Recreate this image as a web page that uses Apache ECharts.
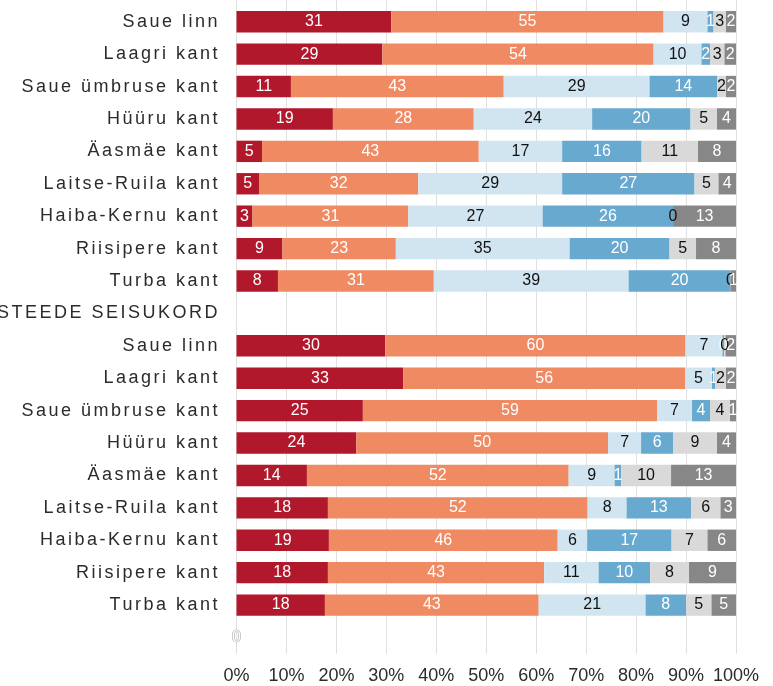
<!DOCTYPE html>
<html>
<head>
<meta charset="utf-8">
<script src="https://cdn.jsdelivr.net/npm/echarts@6/dist/echarts.min.js"></script>
<style>
html,body{margin:0;padding:0;background:#fff;}
#chart{width:773px;height:686px;}
</style>
</head>
<body>
<div id="chart"></div>
<script>
// ---- data ----
var categories = ['',
  'Saue linn','Laagri kant','Saue ümbruse kant','Hüüru kant','Äasmäe kant','Laitse-Ruila kant','Haiba-Kernu kant','Riisipere kant','Turba kant',
  'STEEDE SEISUKORD',
  'Saue linn','Laagri kant','Saue ümbruse kant','Hüüru kant','Äasmäe kant','Laitse-Ruila kant','Haiba-Kernu kant','Riisipere kant','Turba kant',
  ''];
var s1 = [null, 31.0,29.2,10.9,19.3,5.1,4.5,3.2,9.2,8.3, null, 29.8,33.4,25.3,24.0,14.1,18.3,18.5,18.3,17.7, 0];
var s2 = [null, 54.5,54.3,42.6,28.2,43.4,31.9,31.2,22.7,31.2, null, 60.1,56.4,58.9,50.4,52.4,52.0,45.8,43.3,42.8, null];
var s3 = [null, 8.8,9.6,29.2,23.7,16.7,28.8,26.9,34.8,39.0, null, 7.4,5.4,7.0,6.6,9.2,7.8,5.9,10.9,21.4, null];
var s4 = [null, 1.2,1.7,13.5,19.7,15.9,26.5,26.1,20.0,20.4, null, 0.3,0.6,3.6,6.4,1.3,12.9,16.9,10.3,8.1, null];
var s5 = [null, 2.5,2.9,1.8,5.3,11.3,4.8,0,5.3,0, null, 0.3,2.2,4.0,8.8,10.0,5.9,7.2,7.8,5.1, null];
var s6 = [null, 2.0,2.3,2.0,3.8,7.6,3.5,12.6,8.0,1.1, null, 2.1,2.0,1.2,3.8,13.0,3.1,5.7,9.4,4.9, null];
var xTicks = [0,10,20,30,40,50,60,70,80,90,100];

// letter-spaced category labels (marked font family)
(function(){
  var P = CanvasRenderingContext2D.prototype;
  var of = P.fillText;
  P.fillText = function(t,x,y,m){
    var sp = /LblSp/.test(this.font) ? '2.5px' : '0px';
    try { if (this.letterSpacing !== sp) this.letterSpacing = sp; } catch(e){}
    return m === undefined ? of.call(this,t,x,y) : of.call(this,t,x,y,m);
  };
  var os = P.strokeText;
  P.strokeText = function(t,x,y,m){
    var sp = /LblSp/.test(this.font) ? '2.5px' : '0px';
    try { if (this.letterSpacing !== sp) this.letterSpacing = sp; } catch(e){}
    return m === undefined ? os.call(this,t,x,y) : os.call(this,t,x,y,m);
  };
})();

var colors = ['#b2182b','#ef8a62','#d1e5f0','#67a9cf','#d9d9d9','#878787'];
var labelColors = ['#ffffff','#ffffff','#111111','#ffffff','#111111','#ffffff'];
var seriesData = [s1,s2,s3,s4,s5,s6];
var names = ['1','2','3','4','5','6'];
var lastIdx = categories.length - 1;

var series = seriesData.map(function(arr, k){
  return {
    name: names[k],
    type: 'bar',
    stack: 'total',
    barCategoryGap: '34%',
    itemStyle: { color: colors[k] },
    label: {
      show: true,
      position: 'inside',
      color: labelColors[k],
      fontFamily: "'Liberation Sans', Arial, sans-serif",
      fontSize: 16,
      formatter: function(p){ return p.value == null ? '' : String(Math.round(p.value)); }
    },
    data: arr.map(function(v, i){
      if (i === lastIdx && v != null) {
        return { value: v, label: { color: '#ffffff', textBorderColor: '#a8a8a8', textBorderWidth: 1.2 } };
      }
      return v;
    })
  };
});

var chart = echarts.init(document.getElementById('chart'), null, { renderer: 'canvas' });
chart.setOption({
  animation: false,
  backgroundColor: '#ffffff',
  grid: { left: 236.5, right: 37, top: -26.9, bottom: 32.3, containLabel: false, outerBoundsMode: 'none' },
  xAxis: {
    type: 'value',
    min: xTicks[0],
    max: xTicks[xTicks.length - 1],
    interval: xTicks[1] - xTicks[0],
    axisLine: { show: false },
    axisTick: { show: false },
    splitLine: { show: true, lineStyle: { color: '#e0e0e0', width: 1 } },
    axisLabel: {
      formatter: '{value}%',
      fontSize: 18,
      color: '#2b2b2b',
      margin: 13,
      fontFamily: "'Liberation Sans', Arial, sans-serif"
    }
  },
  yAxis: {
    type: 'category',
    inverse: true,
    data: categories,
    axisLine: { show: false },
    axisTick: { show: false },
    splitLine: { show: false },
    axisLabel: {
      interval: 0,
      fontSize: 18,
      color: '#2b2b2b',
      margin: 16.5,
      fontFamily: "'Liberation Sans', LblSp, sans-serif"
    }
  },
  series: series
});
</script>
</body>
</html>
